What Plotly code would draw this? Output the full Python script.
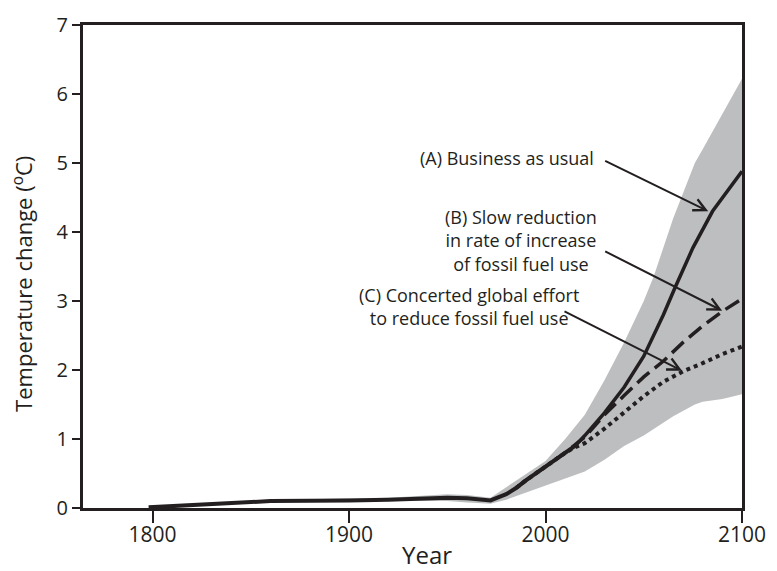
import plotly.graph_objects as go

# Historical + shared path
hist_years = [1798, 1830, 1860, 1900, 1920, 1950, 1960, 1972, 1980, 1985, 1990, 2000, 2010, 2015]
hist_vals = [0.01, 0.05, 0.10, 0.11, 0.12, 0.15, 0.14, 0.11, 0.20, 0.29, 0.40, 0.60, 0.80, 0.90]

# Scenario projections
proj_years = [2015, 2020, 2030, 2040, 2050, 2060, 2066, 2075, 2085, 2100]
a_vals = [0.90, 1.05, 1.38, 1.75, 2.20, 2.80, 3.20, 3.77, 4.30, 4.88]
b_years = [1985, 1990, 2000, 2010, 2020, 2030, 2040, 2050, 2060, 2070, 2080, 2090, 2100]
b_vals = [0.29, 0.40, 0.60, 0.80, 1.03, 1.35, 1.63, 1.90, 2.13, 2.40, 2.64, 2.85, 3.03]
c_years = [1985, 1990, 2000, 2010, 2015, 2020, 2030, 2040, 2050, 2060, 2070, 2080, 2090, 2100]
c_vals = [0.29, 0.40, 0.60, 0.80, 0.88, 0.94, 1.15, 1.38, 1.62, 1.83, 1.98, 2.10, 2.23, 2.34]

# Uncertainty band
band_years = [1798, 1860, 1900, 1920, 1950, 1960, 1972, 1980, 1985, 1990, 2000, 2010, 2020,
              2030, 2040, 2050, 2055, 2065, 2076, 2080, 2090, 2100]
band_upper = [0.01, 0.11, 0.14, 0.15, 0.20, 0.19, 0.15, 0.30, 0.40, 0.50, 0.68, 1.00, 1.35,
              1.85, 2.40, 3.00, 3.35, 4.20, 5.00, 5.20, 5.70, 6.22]
band_lower = [0.01, 0.09, 0.10, 0.10, 0.10, 0.08, 0.06, 0.12, 0.17, 0.22, 0.33, 0.42, 0.53,
              0.70, 0.90, 1.05, 1.14, 1.33, 1.50, 1.54, 1.58, 1.65]

x_ticks = [1800, 1900, 2000, 2100]
y_ticks = [0, 1, 2, 3, 4, 5, 6, 7]

INK = "#231f20"
BAND = "#bcbec0"
FONT = "Open Sans"

W, H = 777, 571
ML, MR, MT, MB = 83, 31, 11, 63
pw, ph = W - ML - MR, H - MT - MB

fig = go.Figure()
fig.add_trace(go.Scatter(x=band_years, y=band_lower, mode="lines", line=dict(width=0),
                         hoverinfo="skip", showlegend=False))
fig.add_trace(go.Scatter(x=band_years, y=band_upper, mode="lines", line=dict(width=0),
                         fill="tonexty", fillcolor=BAND, hoverinfo="skip", showlegend=False))
fig.add_trace(go.Scatter(x=c_years, y=c_vals, mode="lines",
                         line=dict(color=INK, width=4, dash="dot"), showlegend=False))
fig.add_trace(go.Scatter(x=b_years, y=b_vals, mode="lines",
                         line=dict(color=INK, width=3.5, dash="16px,7px"), showlegend=False))
fig.add_trace(go.Scatter(x=proj_years, y=a_vals, mode="lines",
                         line=dict(color=INK, width=3.5), showlegend=False))
fig.add_trace(go.Scatter(x=hist_years, y=hist_vals, mode="lines",
                         line=dict(color=INK, width=4), showlegend=False))

ann_font = dict(family=FONT, size=18, color=INK)
arrow = dict(showarrow=True, arrowhead=5, arrowsize=1.2, arrowwidth=2, arrowcolor=INK,
             axref="x", ayref="y", text="")
annotations = [
    dict(x=2025.5, y=5.07, text="(A) Business as usual", xanchor="right", yanchor="middle",
         showarrow=False, font=ann_font),
    dict(x=1987.5, y=3.87, text="(B) Slow reduction<br>in rate of increase<br>of fossil fuel use",
         xanchor="center", yanchor="middle", align="center", showarrow=False, font=ann_font,
         ),
    dict(x=1960.8, y=2.92, text="(C) Concerted global effort<br>to reduce fossil fuel use",
         xanchor="center", yanchor="middle", align="center", showarrow=False, font=ann_font),
    dict(x=2082.8, y=4.30, ax=2029.6, ay=5.04, **arrow),
    dict(x=2089.9, y=2.86, ax=2029.6, ay=3.73, **arrow),
    dict(x=2069.5, y=1.99, ax=2008.9, ay=2.86, **arrow),
    dict(x=(429 - ML) / pw, y=(H - MB - 556) / ph, xref="paper", yref="paper", text="Year",
         xanchor="center", yanchor="middle", showarrow=False,
         font=dict(family=FONT, size=24, color=INK)),
    dict(x=(22 - ML) / pw, y=(H - MB - 277) / ph, xref="paper", yref="paper",
         xanchor="center", yanchor="middle",
         text="Temperature change (<sup>o</sup>C)", textangle=-90, showarrow=False,
         font=dict(family=FONT, size=22, color=INK)),
]

fig.update_layout(
    width=W, height=H,
    margin=dict(l=ML, r=MR, t=MT, b=MB, pad=0),
    paper_bgcolor="white", plot_bgcolor="white",
    font=dict(family=FONT, color=INK),
    annotations=annotations,
    xaxis=dict(range=[1764.6, 2100], tickvals=x_ticks, ticks="outside", ticklen=12, tickwidth=2,
               tickcolor=INK, showline=True, linewidth=3, linecolor=INK, mirror=True,
               ticklabelstandoff=-6,
               showgrid=False, zeroline=False, tickfont=dict(family=FONT, size=21, color=INK)),
    yaxis=dict(range=[0, 7], tickvals=y_ticks, ticks="outside", ticklen=8, tickwidth=2,
               tickcolor=INK, showline=True, linewidth=3, linecolor=INK, mirror=True,
               showgrid=False, zeroline=False, tickfont=dict(family=FONT, size=20, color=INK)),
)

fig.write_html("out.html")
